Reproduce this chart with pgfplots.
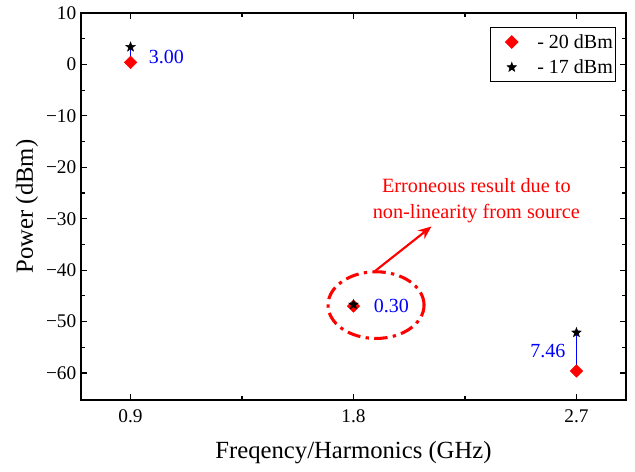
\documentclass[border=0pt]{standalone}
\usepackage{fontspec}
\setmainfont{Liberation Serif}
\usepackage{pgfplots}
\pgfplotsset{compat=1.18}
\usetikzlibrary{arrows.meta,calc}
% filled five-pointed star
\pgfdeclareplotmark{fstar}{%
  \pgfpathmoveto{\pgfqpointpolar{90}{\pgfplotmarksize}}%
  \pgfpathlineto{\pgfqpointpolar{126}{0.42\pgfplotmarksize}}%
  \pgfpathlineto{\pgfqpointpolar{162}{\pgfplotmarksize}}%
  \pgfpathlineto{\pgfqpointpolar{198}{0.42\pgfplotmarksize}}%
  \pgfpathlineto{\pgfqpointpolar{234}{\pgfplotmarksize}}%
  \pgfpathlineto{\pgfqpointpolar{270}{0.42\pgfplotmarksize}}%
  \pgfpathlineto{\pgfqpointpolar{306}{\pgfplotmarksize}}%
  \pgfpathlineto{\pgfqpointpolar{342}{0.42\pgfplotmarksize}}%
  \pgfpathlineto{\pgfqpointpolar{18}{\pgfplotmarksize}}%
  \pgfpathlineto{\pgfqpointpolar{54}{0.42\pgfplotmarksize}}%
  \pgfpathclose
  \pgfusepathqfillstroke}
\begin{document}
\begin{tikzpicture}
\begin{axis}[
  name=ax,
  scale only axis,
  width=408.75pt, height=290.25pt,
  xmin=0.7, xmax=2.9, ymin=-65.25, ymax=10,
  xtick={0.9,1.8,2.7}, xticklabels={0.9,1.8,2.7},
  ytick={-60,-50,...,10},
  yticklabels={−60,−50,−40,−30,−20,−10,0,10},
  minor x tick num=1, minor y tick num=1,
  tick align=inside,
  major tick length=4.5pt, minor tick length=3pt,
  tick label style={font=\fontsize{14.5}{16}\selectfont},
  xticklabel style={yshift=-4pt},
  label style={font=\fontsize{18.5}{21}\selectfont},
  xlabel={Freqency/Harmonics (GHz)},
  ylabel={Power (dBm)},
  xlabel style={yshift=-7pt},
  ylabel style={yshift=-1pt},
  axis line style={line width=1pt},
  every tick/.style={black,line width=0.8pt},
  legend style={at={(0.9817,0.9638)},anchor=north east,font=\fontsize{15}{17}\selectfont,
    draw=black,line width=0.7pt,inner xsep=1pt,inner ysep=3pt,
    nodes={inner xsep=1pt,inner ysep=2pt},row sep=3pt,column sep=13.5pt},
  legend image code/.code={\path[draw=none,fill=none] (-15pt,0pt) -- (0pt,0pt);
    \draw[#1] plot coordinates {(0pt,0pt)};},
  legend cell align=left,
]
\addplot[only marks,mark=square*,mark size=3.3pt,mark options={rotate=45},color=red,fill=red] coordinates {(0.9,0.4)(1.8,-47.0)(2.7,-59.6)};
\addlegendentry{- 20 dBm}
\addplot[only marks,mark=fstar,mark size=3.7pt,color=black,fill=black,line width=0.4pt] coordinates {(0.9,3.4)(1.8,-46.7)(2.7,-52.14)};
\addlegendentry{- 17 dBm}
\addplot[blue,line width=1.1pt,forget plot] coordinates {(0.9,0.4)(0.9,3.4)};
\addplot[blue,line width=1.1pt,forget plot] coordinates {(1.8,-47.0)(1.8,-46.7)};
\addplot[blue,line width=1.1pt,forget plot] coordinates {(2.7,-59.6)(2.7,-52.14)};
\node[blue,anchor=west,inner sep=0pt,font=\fontsize{15}{17}\selectfont] at (axis cs:0.973,1.47) {3.00};
\node[blue,anchor=west,inner sep=0pt,font=\fontsize{15}{17}\selectfont] at (axis cs:1.881,-47.0) {0.30};
\node[blue,anchor=east,inner sep=0pt,font=\fontsize{15}{17}\selectfont] at (axis cs:2.656,-55.7) {7.46};
\draw[red,line width=2.3pt,dash pattern=on 10pt off 4pt on 2.5pt off 4pt] (axis cs:1.891,-46.8) ellipse [x radius=36pt, y radius=25pt];
\draw[red,line width=1.6pt,-{Stealth[length=10pt,width=8pt]}] (axis cs:1.881,-40.4) -- (axis cs:2.115,-31.5);
\node[red,align=center,inner sep=0pt,font=\fontsize{15.2}{19}\selectfont] at (axis cs:2.296,-26.5) {Erroneous result due to\\non-linearity from source};
\end{axis}
\pgfresetboundingbox
\path ($(ax.south west)+(-60.75pt,-53.25pt)$) rectangle ($(ax.north east)+(6.75pt,9.75pt)$);
\end{tikzpicture}
\end{document}
